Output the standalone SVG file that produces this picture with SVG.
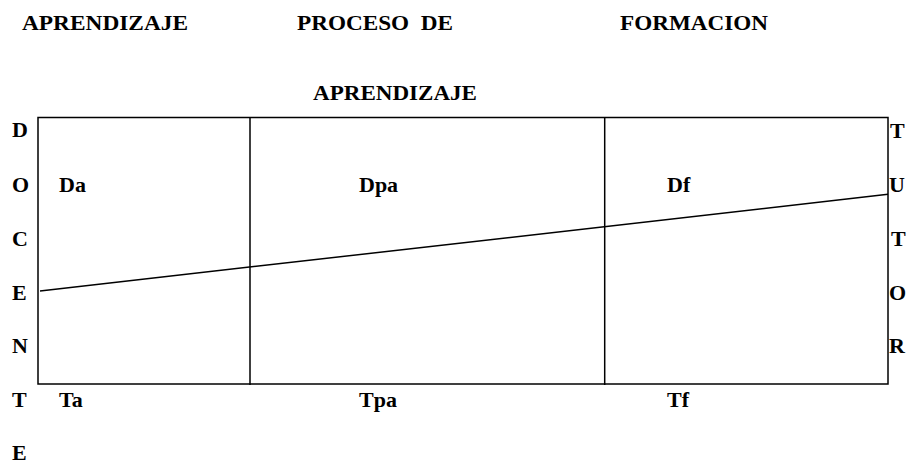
<svg xmlns="http://www.w3.org/2000/svg" width="909" height="464" viewBox="0 0 909 464">
<style>
text{font-family:'Liberation Serif','Times New Roman','DejaVu Serif',serif;font-weight:700;font-size:22px;fill:#000}
.ln{stroke:#000;stroke-width:1.5;fill:none}
</style>
<rect width="909" height="464" fill="#fff"/>
<g id="headers">
<text x="22" y="30" textLength="166" lengthAdjust="spacingAndGlyphs">APRENDIZAJE</text>
<text x="297" y="30" xml:space="preserve" textLength="156" lengthAdjust="spacingAndGlyphs">PROCESO  DE</text>
<text x="620" y="30" textLength="148" lengthAdjust="spacingAndGlyphs">FORMACION</text>
<text x="313" y="100" textLength="164" lengthAdjust="spacingAndGlyphs">APRENDIZAJE</text>
</g>
<g id="frame">
<rect class="ln" x="38" y="117.5" width="850" height="266.5"/>
<line class="ln" x1="250" y1="117.5" x2="250" y2="385"/>
<line class="ln" x1="604.7" y1="117.5" x2="604.7" y2="385"/>
</g>
<g id="connectors">
<line class="ln" x1="40" y1="291" x2="888" y2="194.3"/>
</g>
<g id="docente">
<text x="12" y="137">D</text>
<text x="12" y="192">O</text>
<text x="12" y="246">C</text>
<text x="12" y="300">E</text>
<text x="12" y="353">N</text>
<text x="12" y="407">T</text>
<text x="12" y="460">E</text>
</g>
<g id="tutor">
<text x="890" y="138">T</text>
<text x="889" y="192">U</text>
<text x="891" y="246">T</text>
<text x="889" y="300">O</text>
<text x="889" y="353">R</text>
</g>
<g id="labels">
<text x="59" y="192">Da</text>
<text x="359" y="192">Dpa</text>
<text x="667" y="192">Df</text>
<text x="59" y="407">Ta</text>
<text x="359" y="407">Tpa</text>
<text x="667" y="407">Tf</text>
</g>
</svg>
